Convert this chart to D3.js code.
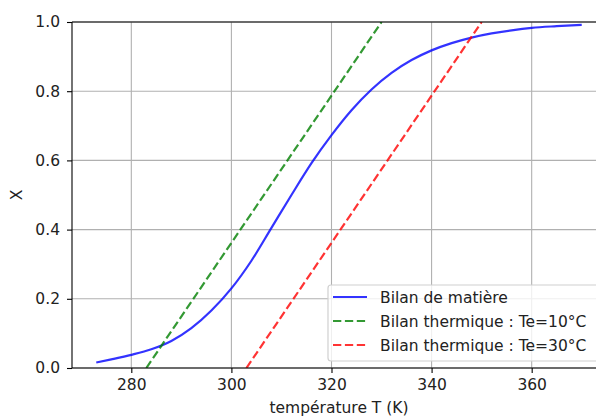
<!DOCTYPE html>
<html>
<head>
<meta charset="utf-8">
<script src="https://cdn.jsdelivr.net/npm/d3@7"></script>
<style>
  html, body { margin: 0; padding: 0; background: #fff; }
  svg { display: block; font-family: "DejaVu Sans", sans-serif; }
</style>
</head>
<body>
<svg id="chart" width="596" height="416"></svg>
<script>
// Conversion X versus temperature T (mass balance)
const matiereT = [273, 276, 280, 284, 288, 292, 296, 300, 304, 308, 312, 316, 320,
                  324, 328, 332, 336, 340, 344, 348, 352, 356, 360, 365, 370];
const matiereX = [0.016, 0.025, 0.038, 0.054, 0.078, 0.115, 0.166, 0.230, 0.310, 0.405,
                  0.500, 0.592, 0.673, 0.745, 0.805, 0.853, 0.890, 0.918, 0.939, 0.955,
                  0.967, 0.976, 0.983, 0.988, 0.992];
// Heat balance straight lines (end points inside the plot)
const thermique10T = [283, 330];
const thermique10X = [0, 1];
const thermique30T = [303, 350];
const thermique30X = [0, 1];

const xTicks = [280, 300, 320, 340, 360];
const yTicks = [0.0, 0.2, 0.4, 0.6, 0.8, 1.0];
const legendLabels = ["Bilan de matière", "Bilan thermique : Te=10°C", "Bilan thermique : Te=30°C"];

const fontSize = "15.5px";
const svg = d3.select("#chart");
const plotLeft = 72, plotRight = 606, plotTop = 22, plotBottom = 368;

const x = d3.scaleLinear().domain([268.15, 374.85]).range([plotLeft, plotRight]);
const y = d3.scaleLinear().domain([0, 1]).range([plotBottom, plotTop]);

svg.append("rect").attr("width", 596).attr("height", 416).attr("fill", "#fff");

svg.append("clipPath").attr("id", "plot")
  .append("rect").attr("x", plotLeft).attr("y", plotTop)
  .attr("width", plotRight - plotLeft).attr("height", plotBottom - plotTop);

// grid
const grid = svg.append("g").attr("stroke", "#b0b0b0").attr("stroke-width", 1.1);
xTicks.forEach(t => grid.append("line")
  .attr("x1", x(t)).attr("x2", x(t)).attr("y1", plotTop).attr("y2", plotBottom));
yTicks.forEach(t => grid.append("line")
  .attr("x1", plotLeft).attr("x2", plotRight).attr("y1", y(t)).attr("y2", y(t)));

// axes
const xAxis = d3.axisBottom(x).tickValues(xTicks).tickFormat(d3.format("d"))
  .tickSizeInner(5).tickSizeOuter(0).tickPadding(6);
const yAxis = d3.axisLeft(y).tickValues(yTicks).tickFormat(d3.format(".1f"))
  .tickSizeInner(5).tickSizeOuter(0).tickPadding(7);

function styleAxis(g) {
  g.select(".domain").remove();
  g.selectAll("line").attr("stroke", "#000").attr("stroke-width", 1.1);
  g.selectAll("text").attr("fill", "#222").style("font-size", fontSize)
    .style("font-family", "'DejaVu Sans', sans-serif");
}
svg.append("g").attr("transform", `translate(0,${plotBottom})`).call(xAxis).call(styleAxis);
svg.append("g").attr("transform", `translate(${plotLeft},0)`).call(yAxis).call(styleAxis);

// curves
const plot = svg.append("g").attr("clip-path", "url(#plot)");
const smooth = d3.line().x(d => x(d[0])).y(d => y(d[1])).curve(d3.curveMonotoneX);
const straight = d3.line().x(d => x(d[0])).y(d => y(d[1]));

plot.append("path")
  .datum(d3.zip(matiereT, matiereX))
  .attr("d", smooth)
  .attr("fill", "none").attr("stroke", "#0000ff").attr("stroke-opacity", 0.8)
  .attr("stroke-width", 2.2);

plot.append("path")
  .datum(d3.zip(thermique10T, thermique10X))
  .attr("d", straight)
  .attr("fill", "none").attr("stroke", "#008000").attr("stroke-opacity", 0.8)
  .attr("stroke-width", 2.2).attr("stroke-dasharray", "8.3,3.6");
plot.append("path")
  .datum(d3.zip(thermique30T, thermique30X))
  .attr("d", straight)
  .attr("fill", "none").attr("stroke", "#ff0000").attr("stroke-opacity", 0.8)
  .attr("stroke-width", 2.2).attr("stroke-dasharray", "8.3,3.6");

// spines
const spines = svg.append("g").attr("stroke", "#000").attr("stroke-width", 1.1).attr("fill", "none");
spines.append("line").attr("x1", plotLeft).attr("x2", plotLeft).attr("y1", plotTop).attr("y2", plotBottom);
spines.append("line").attr("x1", plotLeft).attr("x2", plotRight).attr("y1", plotBottom).attr("y2", plotBottom);
spines.append("line").attr("x1", plotLeft).attr("x2", plotRight).attr("y1", plotTop).attr("y2", plotTop);
spines.append("line").attr("x1", plotRight).attr("x2", plotRight).attr("y1", plotTop).attr("y2", plotBottom);

// axis labels
svg.append("text").attr("x", (plotLeft + plotRight) / 2).attr("y", 413)
  .attr("text-anchor", "middle").attr("fill", "#222").style("font-size", fontSize)
  .text("température T (K)");
svg.append("text").attr("transform", "translate(22,195) rotate(-90)")
  .attr("text-anchor", "middle").attr("fill", "#222").style("font-size", fontSize)
  .text("X");

// legend
const lg = svg.append("g");
lg.append("rect").attr("x", 328).attr("y", 285).attr("width", 271).attr("height", 76)
  .attr("rx", 3).attr("fill", "#fff").attr("fill-opacity", 0.8)
  .attr("stroke", "#d0d0d0").attr("stroke-width", 1.2);
const legendStyles = [
  { color: "#0000ff", dash: null },
  { color: "#008000", dash: "8.3,3.6" },
  { color: "#ff0000", dash: "8.3,3.6" }
];
legendLabels.forEach((lab, i) => {
  const cy = 297 + i * 24;
  lg.append("line").attr("x1", 333).attr("x2", 367).attr("y1", cy).attr("y2", cy)
    .attr("stroke", legendStyles[i].color).attr("stroke-opacity", 0.8)
    .attr("stroke-width", 2.2).attr("stroke-dasharray", legendStyles[i].dash);
  lg.append("text").attr("x", 380).attr("y", cy + 5.5).attr("fill", "#222")
    .style("font-size", fontSize).text(lab);
});
</script>
</body>
</html>
